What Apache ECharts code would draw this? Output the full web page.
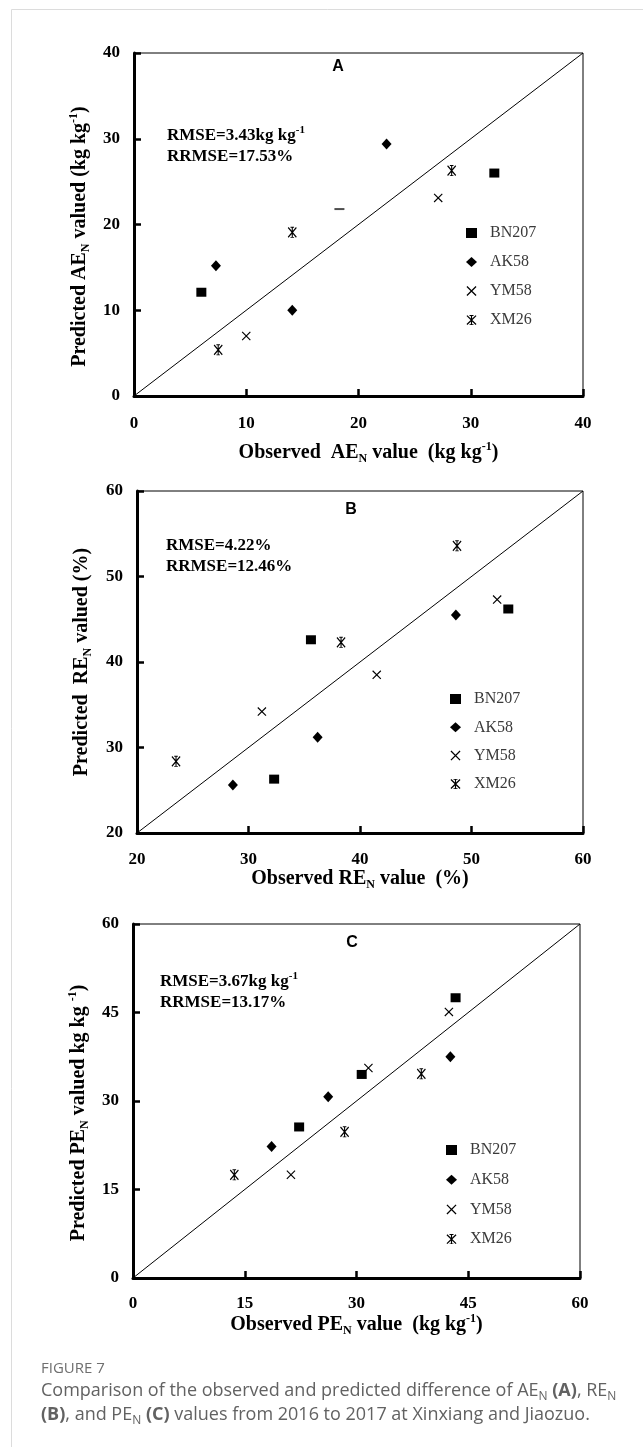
<!DOCTYPE html>
<html><head><meta charset="utf-8">
<script src="https://cdn.jsdelivr.net/npm/echarts@6/dist/echarts.min.js"></script>
<style>html,body{margin:0;padding:0;background:#fff}#c{width:643px;height:1447px}</style>
</head><body><div id="c"></div>
<script>
// ---- data ----
const seriesNames = ['BN207', 'AK58', 'YM58', 'XM26'];
// Panel A: AE_N (observed, predicted)
const A_BN207 = [[6.0, 12.1], [32.1, 26.0]];
const A_AK58  = [[7.3, 15.2], [22.5, 29.4], [14.1, 10.0]];
const A_YM58  = [[10.0, 7.0], [27.1, 23.1]];
const A_XM26  = [[7.5, 5.4], [14.1, 19.1], [28.3, 26.3]];
const A_DASH  = [[18.3, 21.8]];
// Panel B: RE_N
const B_BN207 = [[35.6, 42.6], [32.3, 26.3], [53.3, 46.2]];
const B_AK58  = [[28.6, 25.6], [36.2, 31.2], [48.6, 45.5]];
const B_YM58  = [[31.2, 34.2], [41.5, 38.5], [52.3, 47.3]];
const B_XM26  = [[23.5, 28.4], [38.3, 42.3], [48.7, 53.6]];
// Panel C: PE_N
const C_BN207 = [[43.3, 47.5], [30.7, 34.5], [22.3, 25.6]];
const C_AK58  = [[42.6, 37.5], [26.2, 30.7], [18.6, 22.3]];
const C_YM58  = [[42.4, 45.1], [31.6, 35.6], [21.2, 17.5]];
const C_XM26  = [[13.6, 17.5], [28.4, 24.8], [38.7, 34.6]];
// axis ranges [min, max, interval]
const A_range = [0, 40, 10];
const B_range = [20, 60, 10];
const C_range = [0, 60, 15];
const statsA = ['RMSE=3.43kg kg', '-1', 'RRMSE=17.53%'];
const statsB = ['RMSE=4.22%', '', 'RRMSE=12.46%'];
const statsC = ['RMSE=3.67kg kg', '-1', 'RRMSE=13.17%'];

// ---- styling ----
const SERIF = '"Liberation Serif", "Times New Roman", serif';
const SANS = '"Liberation Sans", Arial, sans-serif';
const X_PATH = 'path://M0,0.9 L0.9,0 L10,9.1 L9.1,10 Z M9.1,0 L10,0.9 L0.9,10 L0,9.1 Z';
const AST_PATH = 'path://M0,1.1 L0.9,0.2 L10,9.1 L9.1,10 Z M9.1,0.2 L10,1.1 L0.9,10 L0,9.1 Z M4.4,0 L5.6,0 L5.6,10 L4.4,10 Z M3,0 L7,0 L7,0.9 L3,0.9 Z M3,9.3 L7,9.3 L7,10 L3,10 Z';
const symbols = {
  BN207: {symbol: 'rect', size: [10, 9]},
  AK58: {symbol: 'diamond', size: [10, 11]},
  YM58: {symbol: X_PATH, size: [9, 9]},
  XM26: {symbol: AST_PATH, size: [9, 11]}
};

const nameRich = {
  t: {fontFamily: SERIF, fontWeight: 'bold', fontSize: 20, color: '#000', lineHeight: 24},
  s: {fontFamily: SERIF, fontWeight: 'bold', fontSize: 12, color: '#000', lineHeight: 13, verticalAlign: 'bottom'},
  p: {fontFamily: SERIF, fontWeight: 'bold', fontSize: 12, color: '#000', lineHeight: 16, verticalAlign: 'top'}
};

const grids = [
  {left: 134, top: 53, width: 449, height: 343},
  {left: 137, top: 491, width: 446, height: 342},
  {left: 133, top: 924, width: 447, height: 354}
];

function xAxisCfg(gi, r, name, gap, lm, pad) {
  return {
    type: 'value', gridIndex: gi, min: r[0], max: r[1], interval: r[2],
    name: name, nameLocation: 'middle', nameGap: gap,
    nameTextStyle: {rich: nameRich, padding: pad},
    axisLine: {show: true, onZero: false, lineStyle: {color: '#000', width: 3}},
    axisTick: {show: true, inside: true, length: 7, lineStyle: {color: '#000', width: 2.5}},
    axisLabel: {margin: lm, color: '#000', fontFamily: SERIF, fontWeight: 'bold', fontSize: 17},
    splitLine: {show: false}
  };
}
function yAxisCfg(gi, r, name, gap, pad) {
  return {
    type: 'value', gridIndex: gi, min: r[0], max: r[1], interval: r[2],
    name: name, nameLocation: 'middle', nameGap: gap, nameRotate: 90,
    nameTextStyle: {rich: nameRich, padding: pad},
    axisLine: {show: true, onZero: false, lineStyle: {color: '#000', width: 3}},
    axisTick: {show: true, inside: true, length: 7, lineStyle: {color: '#000', width: 2.5}},
    axisLabel: {margin: 14, color: '#000', fontFamily: SERIF, fontWeight: 'bold', fontSize: 17},
    splitLine: {show: false}
  };
}

const panelData = [
  [A_BN207, A_AK58, A_YM58, A_XM26],
  [B_BN207, B_AK58, B_YM58, B_XM26],
  [C_BN207, C_AK58, C_YM58, C_XM26]
];
const ranges = [A_range, B_range, C_range];

const series = [];
panelData.forEach((arrs, gi) => {
  const r = ranges[gi];
  series.push({
    type: 'line', xAxisIndex: gi, yAxisIndex: gi, silent: true, symbol: 'none',
    data: [[r[0], r[0]], [r[1], r[1]]],
    lineStyle: {color: '#000', width: 1}, z: 1
  });
  arrs.forEach((d, si) => {
    const nm = seriesNames[si];
    series.push({
      type: 'scatter', name: nm, xAxisIndex: gi, yAxisIndex: gi,
      symbol: symbols[nm].symbol, symbolSize: symbols[nm].size,
      itemStyle: {color: '#000', opacity: 1},
      data: d, z: 3
    });
  });
});
series.push({
  type: 'scatter', xAxisIndex: 0, yAxisIndex: 0, symbol: 'rect', symbolSize: [10, 2],
  itemStyle: {color: '#222'}, data: A_DASH, silent: true
});

function legendCfg(left, top, gap) {
  return {
    orient: 'vertical', left: left, top: top, itemGap: gap,
    itemWidth: 11, itemHeight: 10,
    data: seriesNames,
    selectedMode: false,
    formatter: '{a|{name}}',
    textStyle: {rich: {a: {fontFamily: SERIF, fontSize: 16, color: '#3a3a3a', padding: [0, 0, 0, 8]}}}
  };
}

function statText(x, y, s) {
  const txt = s[1] ? ('{b|' + s[0] + '}{p|' + s[1] + '}\n{b|' + s[2] + '}') : ('{b|' + s[0] + '}\n{b|' + s[2] + '}');
  return {
    type: 'text', left: x, top: y, z: 10,
    style: {
      text: txt,
      rich: {
        b: {fontFamily: SERIF, fontWeight: 'bold', fontSize: 17, fill: '#000', lineHeight: 21},
        p: {fontFamily: SERIF, fontWeight: 'bold', fontSize: 11, fill: '#000', lineHeight: 13, verticalAlign: 'top'}
      }
    }
  };
}
function panelLabel(x, y, t) {
  return {type: 'text', x: x, y: y, z: 10,
    style: {text: t, font: 'bold 16px ' + SANS, fill: '#000', align: 'center', verticalAlign: 'middle'}};
}

const option = {
  animation: false,
  backgroundColor: '#fff',
  grid: grids.map(g => Object.assign({show: true, borderColor: '#000', borderWidth: 1, backgroundColor: 'transparent'}, g)),
  xAxis: [
    xAxisCfg(0, A_range, '{t|Observed  AE}{s|N}{t| value  (kg kg}{p|-1}{t|)}', 45, 19, [0, 0, 0, 20]),
    xAxisCfg(1, B_range, '{t|Observed RE}{s|N}{t| value  (%)}', 32, 18, 0),
    xAxisCfg(2, C_range, '{t|Observed PE}{s|N}{t| value  (kg kg}{p|-1}{t|)}', 33, 17, 0)
  ],
  yAxis: [
    yAxisCfg(0, A_range, '{t|Predicted AE}{s|N}{t| valued (kg kg}{p|-1}{t|)}', 40, [0, 24, 0, 0]),
    yAxisCfg(1, B_range, '{t|Predicted  RE}{s|N}{t| valued (%)}', 43, 0),
    yAxisCfg(2, C_range, '{t|Predicted PE}{s|N}{t| valued kg kg }{p|-1}{t|)}', 37, [0, 24, 0, 0])
  ],
  legend: [legendCfg(461, 220, 13), legendCfg(445, 686, 12.3), legendCfg(441, 1137, 13.7)],
  series: series,
  graphic: [
    {type: 'rect', shape: {x: 11.5, y: 9.5, width: 700, height: 1500}, style: {fill: 'none', stroke: '#dcdcdc', lineWidth: 1}, silent: true, z: -1},
    panelLabel(338, 67, 'A'),
    panelLabel(351, 510, 'B'),
    panelLabel(352, 943, 'C'),
    statText(167, 125, statsA),
    statText(166, 537, statsB),
    statText(160, 971, statsC),
    {type: 'text', left: 41, top: 1361, style: {text: 'FIGURE 7', font: '15px "Open Sans", sans-serif', fill: '#6f6f6f'}},
    {type: 'text', left: 41, top: 1382, style: {
      text: '{n|Comparison of the observed and predicted difference of AE}{s|N}{n| }{b|(A)}{n|, RE}{s|N}\n{b|(B)}{n|, and PE}{s|N}{n| }{b|(C)}{n| values from 2016 to 2017 at Xinxiang and Jiaozuo.}',
      rich: {
        n: {fontFamily: '"Open Sans", sans-serif', fontSize: 18, fill: '#626262', lineHeight: 24},
        b: {fontFamily: '"Open Sans", sans-serif', fontWeight: 'bold', fontSize: 18, fill: '#626262', lineHeight: 24},
        s: {fontFamily: '"Open Sans", sans-serif', fontSize: 12, fill: '#626262', lineHeight: 15, verticalAlign: 'bottom'}
      }
    }}
  ]
};
const chart = echarts.init(document.getElementById('c'), null, {renderer: 'canvas'});
chart.setOption(option);
</script>
</body></html>
